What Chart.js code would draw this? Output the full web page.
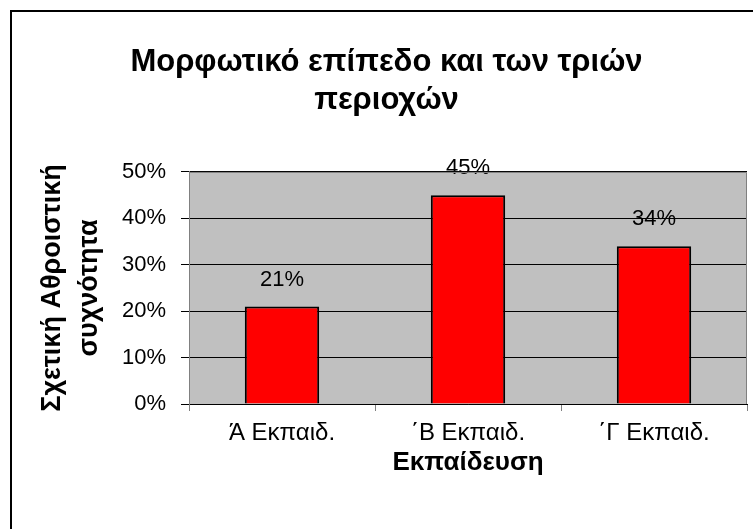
<!DOCTYPE html>
<html>
<head>
<meta charset="utf-8">
<script src="https://cdn.jsdelivr.net/npm/chart.js@4"></script>
<style>
  html, body { margin: 0; padding: 0; background: #fff; }
  canvas { display: block; }
</style>
</head>
<body>
<canvas id="eduChart" width="753" height="529"></canvas>
<script>
const categories = ['Ά Εκπαιδ.', '΄Β Εκπαιδ.', '΄Γ Εκπαιδ.'];
const shares = [0.21, 0.45, 0.34];
const shareLabels = ['21%', '45%', '34%'];
const titleLines = ['Μορφωτικό επίπεδο και των τριών', 'περιοχών'];
const yTitleLines = ['Σχετική Αθροιστική', 'συχνότητα'];
const xTitle = 'Εκπαίδευση';

const FONT = "'Liberation Sans', Arial, sans-serif";

// grey plot background + outer frame
const frame = {
  id: 'frame',
  beforeDraw(chart) {
    const {ctx, chartArea: a} = chart;
    ctx.save();
    ctx.fillStyle = '#c0c0c0';
    ctx.fillRect(a.left, a.top, a.right - a.left, a.bottom - a.top);
    ctx.restore();
  },
  afterDraw(chart) {
    const {ctx, chartArea: a} = chart;
    ctx.save();
    ctx.strokeStyle = '#808080';
    ctx.lineWidth = 1;
    ctx.beginPath();
    ctx.moveTo(a.left, a.top + 0.5);
    ctx.lineTo(a.right - 0.5, a.top + 0.5);
    ctx.lineTo(a.right - 0.5, a.bottom);
    ctx.stroke();
    ctx.strokeStyle = '#000';
    ctx.lineWidth = 2;
    ctx.strokeRect(11, 11, 800, 600);
    ctx.restore();
  }
};

// value labels above bars
const barLabels = {
  id: 'barLabels',
  afterDatasetsDraw(chart) {
    const {ctx} = chart;
    const meta = chart.getDatasetMeta(0);
    ctx.save();
    ctx.font = '22px ' + FONT;
    ctx.fillStyle = '#000';
    ctx.textAlign = 'center';
    ctx.textBaseline = 'alphabetic';
    meta.data.forEach((bar, i) => {
      ctx.fillText(shareLabels[i], bar.x, bar.y - 21);
    });
    ctx.restore();
  }
};

new Chart(document.getElementById('eduChart').getContext('2d'), {
  type: 'bar',
  data: {
    labels: categories,
    datasets: [{
      data: shares,
      backgroundColor: '#ff0000',
      borderColor: '#000000',
      borderWidth: 2,
      categoryPercentage: 1,
      barPercentage: 0.4
    }]
  },
  options: {
    responsive: false,
    animation: false,
    layout: {padding: {left: 26, right: 6, top: 0, bottom: 0}},
    plugins: {
      legend: {display: false},
      tooltip: {enabled: false},
      title: {
        display: true,
        text: titleLines,
        color: '#000',
        font: {family: FONT, size: 31, weight: 'bold', lineHeight: 1.23},
        padding: {top: 43, bottom: 52.7}
      }
    },
    scales: {
      x: {
        grid: {drawOnChartArea: false, drawTicks: true, tickLength: 7, tickColor: '#808080'},
        border: {color: '#000', width: 1},
        ticks: {color: '#000', padding: 8, font: {family: FONT, size: 24}, maxRotation: 0},
        title: {
          display: true,
          text: xTitle,
          color: '#000',
          font: {family: FONT, size: 26, weight: 'bold', lineHeight: 1.2},
          padding: {top: 0, bottom: 51}
        },
        afterFit(scale) { scale.height = 125; }
      },
      y: {
        min: 0,
        max: 0.5,
        grid: {color: '#000', lineWidth: 1, drawTicks: true, tickLength: 8, tickColor: '#000'},
        border: {color: '#808080', width: 1},
        ticks: {
          stepSize: 0.1,
          color: '#000',
          padding: 15,
          font: {family: FONT, size: 22},
          callback: v => Math.round(v * 100) + '%'
        },
        title: {
          display: true,
          text: yTitleLines,
          color: '#000',
          font: {family: FONT, size: 27, weight: 'bold', lineHeight: 1.37},
          padding: {top: 8.5, bottom: 0}
        },
        afterFit(scale) { scale.width = 163; }
      }
    }
  },
  plugins: [frame, barLabels]
});
</script>
</body>
</html>
